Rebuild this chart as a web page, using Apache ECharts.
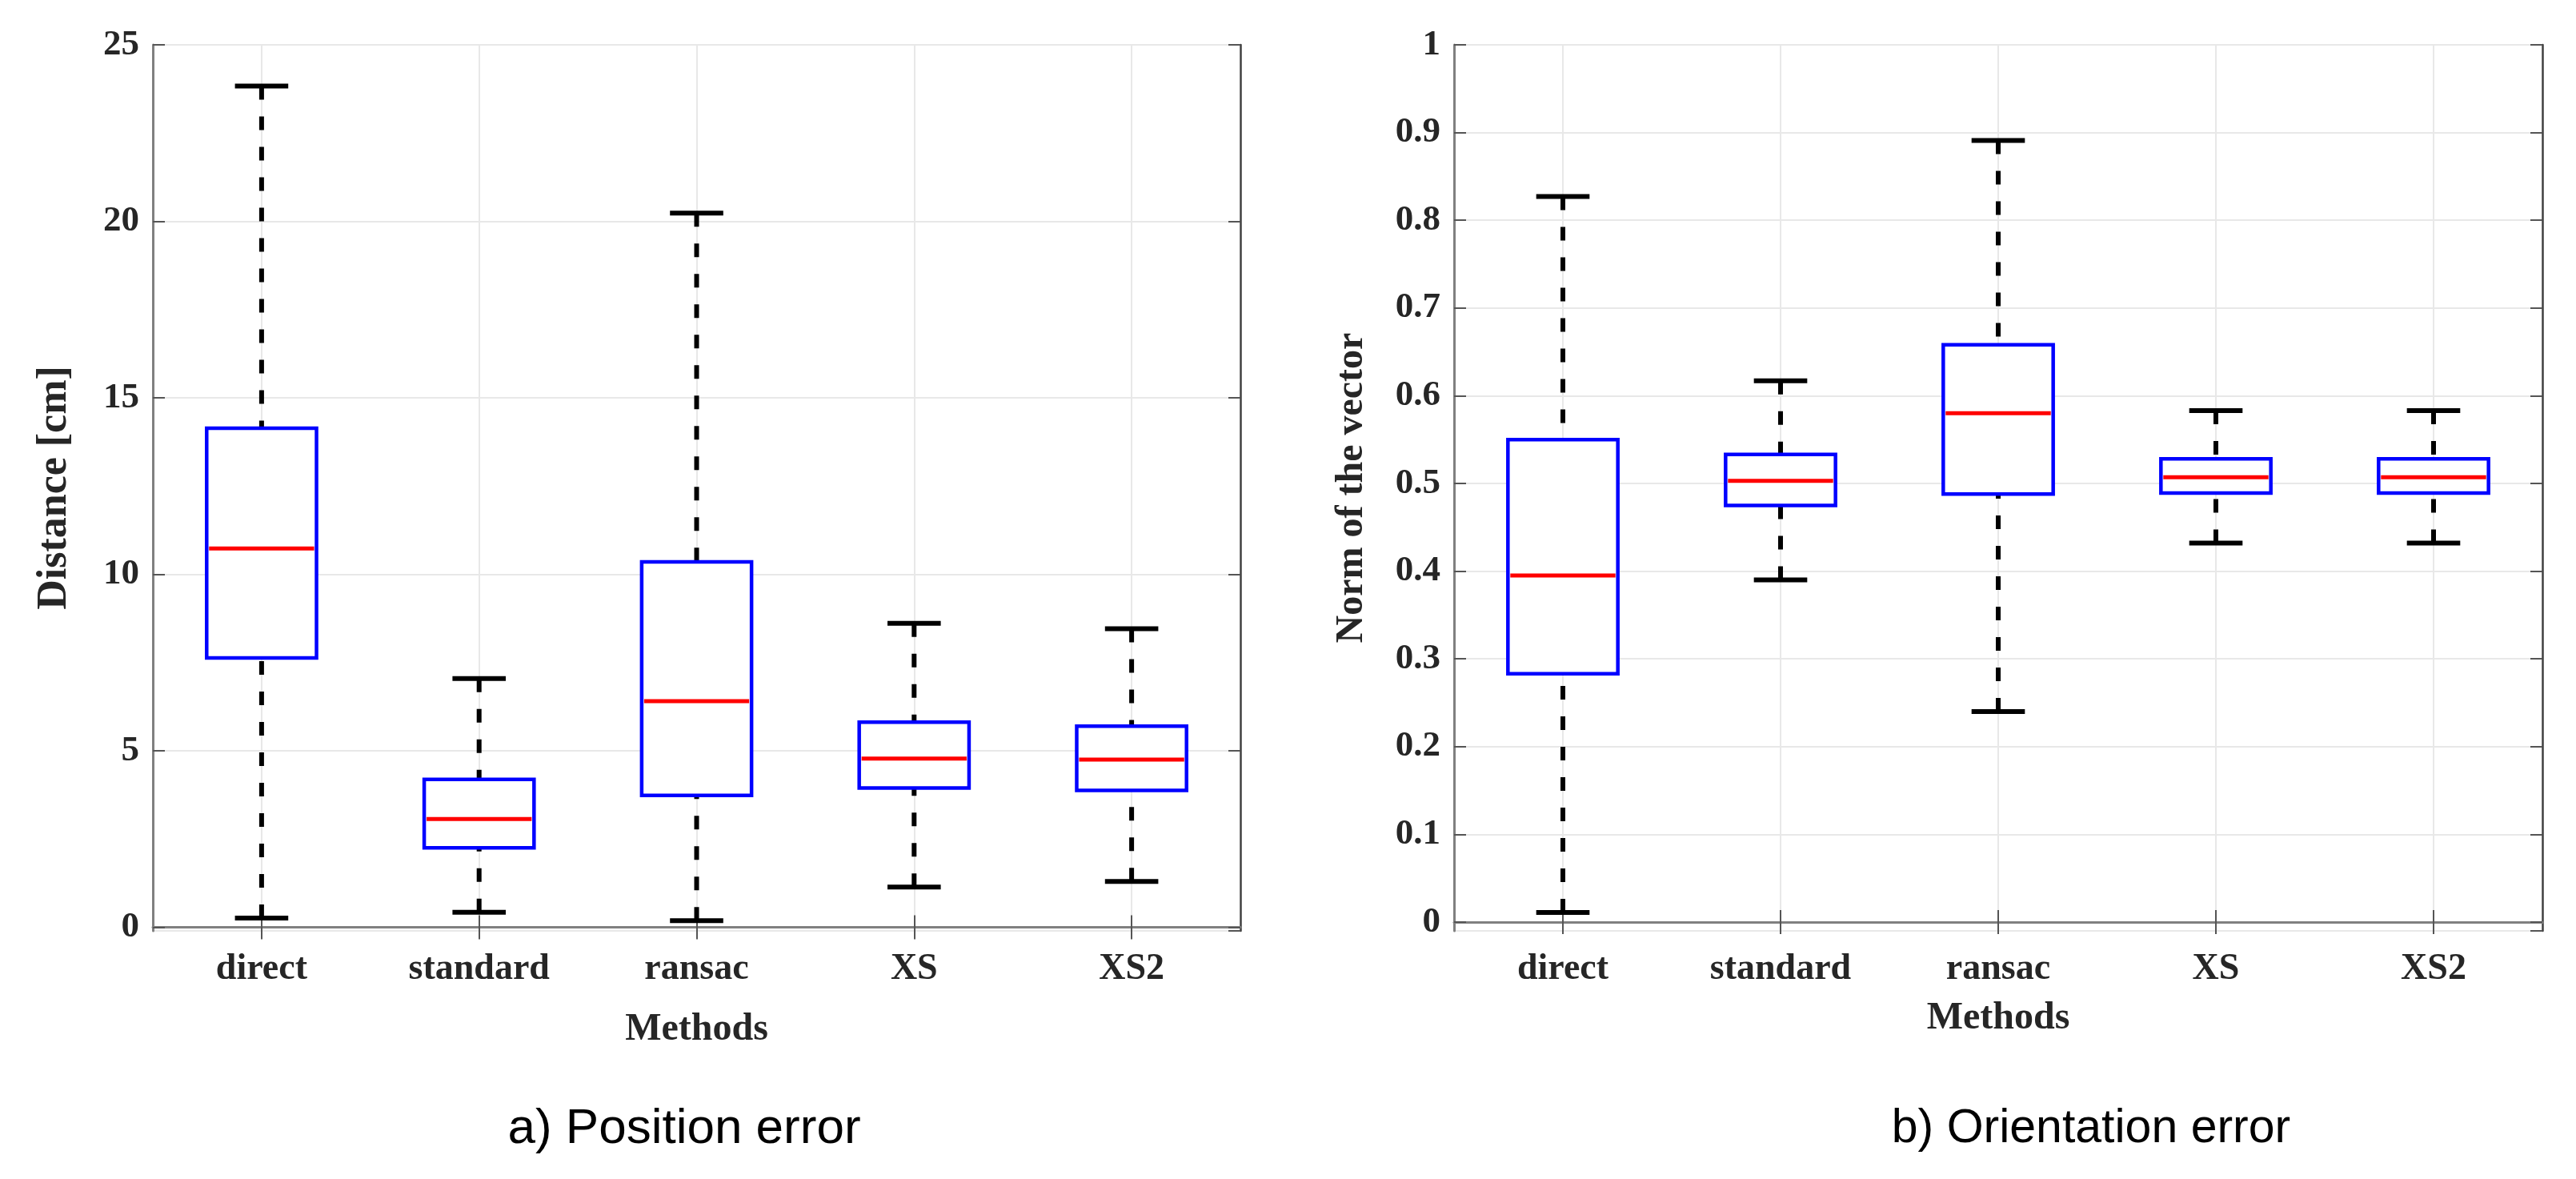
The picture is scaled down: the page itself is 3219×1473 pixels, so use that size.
<!DOCTYPE html>
<html><head><meta charset="utf-8">
<script src="https://cdn.jsdelivr.net/npm/echarts@6/dist/echarts.min.js"></script>
<style>html,body{margin:0;padding:0;background:#fff}#c{width:3219px;height:1473px}</style>
</head><body><div id="c"></div>
<script>
// ---- data ----
const categories = ['direct', 'standard', 'ransac', 'XS', 'XS2'];
// a) Position error [cm]
const posLow  = [0.26, 0.43, 0.19, 1.14, 1.30];
const posQ1   = [7.63, 2.25, 3.74, 3.95, 3.88];
const posMed  = [10.73, 3.07, 6.41, 4.78, 4.75];
const posQ3   = [14.14, 4.19, 10.35, 5.81, 5.70];
const posHigh = [23.83, 7.05, 20.23, 8.61, 8.46];
// b) Orientation error (norm of the vector)
const oriLow  = [0.011, 0.390, 0.240, 0.432, 0.432];
const oriQ1   = [0.283, 0.475, 0.488, 0.489, 0.489];
const oriMed  = [0.395, 0.503, 0.580, 0.507, 0.507];
const oriQ3   = [0.550, 0.533, 0.658, 0.528, 0.528];
const oriHigh = [0.827, 0.617, 0.891, 0.583, 0.583];

const titles = ['a) Position error', 'b) Orientation error'];
const yNames = ['Distance [cm]', 'Norm of the vector'];
const xName = 'Methods';

function rows(lo, q1, md, q3, hi) {
  return categories.map((c, i) => [i, lo[i], q1[i], md[i], q3[i], hi[i]]);
}

const SERIF = '"Liberation Serif", "DejaVu Serif", serif';
const TXT = '#262626';

function renderBox(params, api) {
  const x = api.value(0);
  const lo = api.coord([x, api.value(1)]);
  const q1 = api.coord([x, api.value(2)]);
  const md = api.coord([x, api.value(3)]);
  const q3 = api.coord([x, api.value(4)]);
  const hi = api.coord([x, api.value(5)]);
  const band = api.size([1, 0])[0];
  const bw = band * 0.505, cw = band * 0.245;
  const cx = lo[0];
  const dash = {stroke: '#000', lineWidth: 6, lineDash: [17, 21], lineCap: 'butt'};
  const solid = {stroke: '#000', lineWidth: 6, lineCap: 'butt'};
  return {type: 'group', children: [
    {type: 'line', shape: {x1: cx, y1: hi[1], x2: cx, y2: q3[1]}, style: dash},
    {type: 'line', shape: {x1: cx, y1: lo[1], x2: cx, y2: q1[1]}, style: dash},
    {type: 'line', shape: {x1: cx - cw / 2, y1: hi[1], x2: cx + cw / 2, y2: hi[1]}, style: solid},
    {type: 'line', shape: {x1: cx - cw / 2, y1: lo[1], x2: cx + cw / 2, y2: lo[1]}, style: solid},
    {type: 'rect', shape: {x: cx - bw / 2, y: q3[1], width: bw, height: q1[1] - q3[1]},
      style: {fill: '#fff', stroke: '#0000ff', lineWidth: 4.5}},
    {type: 'line', shape: {x1: cx - bw / 2 + 3, y1: md[1], x2: cx + bw / 2 - 3, y2: md[1]},
      style: {stroke: '#ff0000', lineWidth: 5, lineCap: 'butt'}}
  ]};
}

function xAxes(gi, nameGap) {
  return [
    {type: 'category', gridIndex: gi, data: categories, position: 'bottom', boundaryGap: true,
     name: xName, nameLocation: 'middle', nameGap: nameGap,
     nameTextStyle: {fontFamily: SERIF, fontWeight: 'bold', fontSize: 48, color: TXT},
     axisLine: {show: true, lineStyle: {color: '#808080', width: 3}},
     axisTick: {show: true, inside: true, length: 15, alignWithLabel: true, lineStyle: {color: '#555', width: 2}},
     splitLine: {show: true, alignWithLabel: true, lineStyle: {color: '#e8e8e8', width: 2}},
     axisLabel: {fontFamily: SERIF, fontWeight: 'bold', fontSize: 46, color: TXT, margin: 25}},
    {type: 'category', gridIndex: gi, data: categories, position: 'top', boundaryGap: true,
     axisLine: {show: true, lineStyle: {color: '#808080', width: 2}},
     axisTick: {show: true, inside: true, length: 15, alignWithLabel: true, lineStyle: {color: '#555', width: 2}},
     splitLine: {show: false}, axisLabel: {show: false}}
  ];
}

function yAxes(gi, min, max, splitNumber, name, nameGap, nameSize) {
  return [
    {type: 'value', gridIndex: gi, position: 'left', min: min, max: max, splitNumber: splitNumber,
     name: name, nameLocation: 'middle', nameGap: nameGap,
     nameTextStyle: {fontFamily: SERIF, fontWeight: 'bold', fontSize: nameSize, color: TXT},
     axisLine: {show: true, lineStyle: {color: '#808080', width: 3}},
     axisTick: {show: true, inside: true, length: 15, lineStyle: {color: '#555', width: 2}},
     splitLine: {show: true, lineStyle: {color: '#e8e8e8', width: 2}},
     axisLabel: {fontFamily: SERIF, fontWeight: 'bold', fontSize: 45, color: TXT, margin: 17, showMinLabel: false}},
    {type: 'value', gridIndex: gi, position: 'right', min: min, max: max, splitNumber: splitNumber,
     axisLine: {show: true, lineStyle: {color: '#404040', width: 2.5}},
     axisTick: {show: true, inside: true, length: 15, lineStyle: {color: '#555', width: 2}},
     splitLine: {show: false}, axisLabel: {show: false}}
  ];
}

const xa = xAxes(0, 100).concat(xAxes(1, 86));
const ya = yAxes(0, -0.1, 25, 5, yNames[0], 96, 52).concat(yAxes(1, -0.01, 1, 10, yNames[1], 103, 48));

const option = {
  backgroundColor: '#fff',
  animation: false,
  title: [
    {text: titles[0], left: 855, top: 1380, textAlign: 'center', padding: 0,
     textStyle: {fontFamily: '"Liberation Sans", Arial, sans-serif', fontWeight: 'normal', fontSize: 62, color: '#000'}},
    {text: titles[1], left: 2613, top: 1381, textAlign: 'center', padding: 0,
     textStyle: {fontFamily: '"Liberation Sans", Arial, sans-serif', fontWeight: 'normal', fontSize: 59, color: '#000'}}
  ],
  grid: [
    {left: 191, top: 56, width: 1359, height: 1107},
    {left: 1817, top: 56, width: 1360, height: 1107}
  ],
  xAxis: xa,
  yAxis: ya,
  series: [
    {type: 'custom', xAxisIndex: 0, yAxisIndex: 0, renderItem: renderBox,
     encode: {x: 0, y: [1, 2, 3, 4, 5]}, data: rows(posLow, posQ1, posMed, posQ3, posHigh)},
    {type: 'custom', xAxisIndex: 2, yAxisIndex: 2, renderItem: renderBox,
     encode: {x: 0, y: [1, 2, 3, 4, 5]}, data: rows(oriLow, oriQ1, oriMed, oriQ3, oriHigh)}
  ]
};
const chart = echarts.init(document.getElementById('c'));
chart.setOption(option);
</script></body></html>
